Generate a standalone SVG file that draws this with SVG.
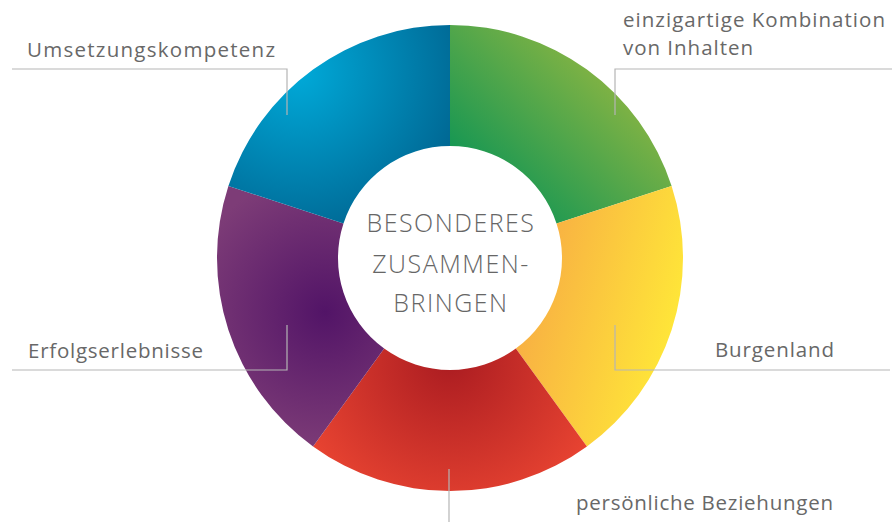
<svg xmlns="http://www.w3.org/2000/svg" width="892" height="522" viewBox="0 0 892 522">
<style>
.lbl{font-family:"Open Sans","Liberation Sans",sans-serif;font-size:20.5px;fill:#686868;font-weight:400}
.ctr{font-family:"Open Sans","Liberation Sans",sans-serif;font-size:25px;fill:#666;font-weight:300;letter-spacing:1.5px;text-anchor:middle}
.ld{fill:none;stroke:#b5b5b5;stroke-width:1.2}
</style>
<defs>
<linearGradient id="gGreen" gradientUnits="userSpaceOnUse" x1="470" y1="215" x2="610" y2="70">
<stop offset="0" stop-color="#009156"/><stop offset="1" stop-color="#86b443"/>
</linearGradient>
<linearGradient id="gYellow" gradientUnits="userSpaceOnUse" x1="530" y1="290" x2="680" y2="330">
<stop offset="0" stop-color="#f8b043"/><stop offset="1" stop-color="#ffe838"/>
</linearGradient>
<radialGradient id="gRed" gradientUnits="userSpaceOnUse" cx="450" cy="360" r="160">
<stop offset="0" stop-color="#ab1c21"/><stop offset="1" stop-color="#e74331"/>
</radialGradient>
<radialGradient id="gPurple" gradientUnits="userSpaceOnUse" cx="325" cy="312" r="140">
<stop offset="0" stop-color="#521467"/><stop offset="1" stop-color="#7d3c77"/>
</radialGradient>
<radialGradient id="gBlue" gradientUnits="userSpaceOnUse" cx="298" cy="72" r="175">
<stop offset="0" stop-color="#00aad9"/><stop offset="1" stop-color="#006591"/>
</radialGradient>
</defs>
<rect width="892" height="522" fill="#fff"/>
<g id="seg-green"><path d="M450,25 A233,233 0 0 1 671.6,186 L556.52,223.39 A112,112 0 0 0 450,146 Z" fill="url(#gGreen)"/></g>
<g id="seg-yellow"><path d="M671.6,186 A233,233 0 0 1 586.95,446.5 L515.83,348.61 A112,112 0 0 0 556.52,223.39 Z" fill="url(#gYellow)"/></g>
<g id="seg-red"><path d="M586.95,446.5 A233,233 0 0 1 313.05,446.5 L384.17,348.61 A112,112 0 0 0 515.83,348.61 Z" fill="url(#gRed)"/></g>
<g id="seg-purple"><path d="M313.05,446.5 A233,233 0 0 1 228.4,186 L343.48,223.39 A112,112 0 0 0 384.17,348.61 Z" fill="url(#gPurple)"/></g>
<g id="seg-blue"><path d="M228.4,186 A233,233 0 0 1 450,25 L450,146 A112,112 0 0 0 343.48,223.39 Z" fill="url(#gBlue)"/></g>
<g id="center">
<text class="ctr" x="451" y="232">BESONDERES</text>
<text class="ctr" x="451" y="273">ZUSAMMEN-</text>
<text class="ctr" x="451" y="312">BRINGEN</text>
</g>
<g id="connectors">
<polyline class="ld" points="12,69 287,69 287,115"/>
<polyline class="ld" points="892,69 615,69 615,115"/>
<polyline class="ld" points="12,370 287,370 287,325"/>
<polyline class="ld" points="890,370 615,370 615,325"/>
<line class="ld" x1="449" y1="469" x2="449" y2="522"/>
</g>
<g id="label-umsetzung"><text class="lbl" x="27" y="57" textLength="248" lengthAdjust="spacing">Umsetzungskompetenz</text></g>
<g id="label-einzigartig"><text class="lbl" x="623" y="27" textLength="262" lengthAdjust="spacing">einzigartige Kombination</text><text class="lbl" x="623" y="55" textLength="130" lengthAdjust="spacing">von Inhalten</text></g>
<g id="label-erfolg"><text class="lbl" x="28" y="358" textLength="175" lengthAdjust="spacing">Erfolgserlebnisse</text></g>
<g id="label-burgenland"><text class="lbl" x="715" y="357" textLength="119" lengthAdjust="spacing">Burgenland</text></g>
<g id="label-persoenlich"><text class="lbl" x="576" y="510" textLength="257" lengthAdjust="spacing">persönliche Beziehungen</text></g>
</svg>
